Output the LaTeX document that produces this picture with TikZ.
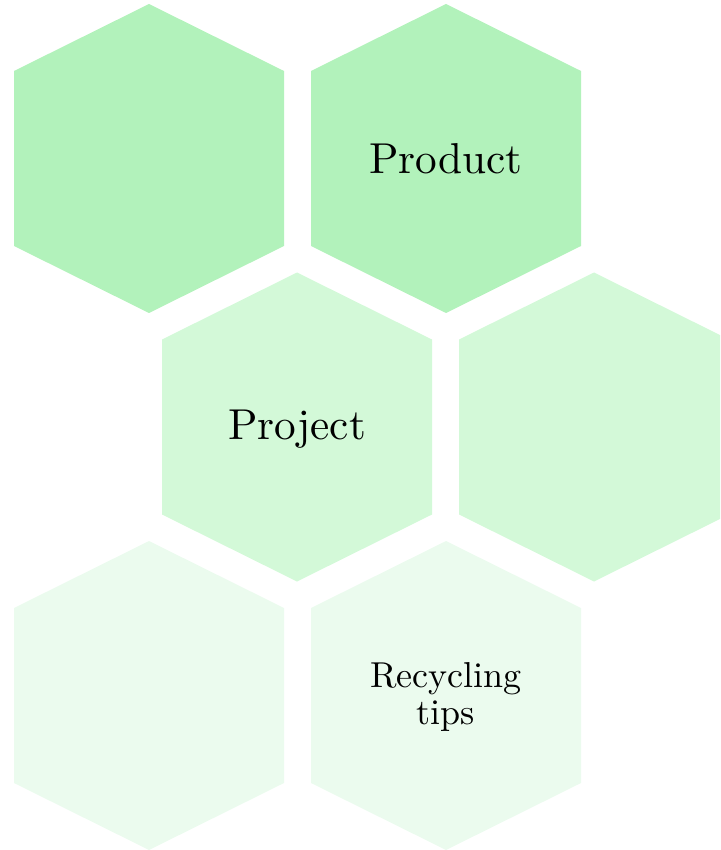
\documentclass[tikz,border=0pt]{standalone}
\usepackage{tikz}
\usetikzlibrary{calc}
\definecolor{hexdark}{HTML}{B2F2BB}
\definecolor{hexmid}{HTML}{D3F9D8}
\definecolor{hexlight}{HTML}{EBFBEE}
\def\hexcell[#1](#2,#3){\fill[#1] (#2,#3-154.5) -- (#2+135,#3-87.5) -- (#2+135,#3+87.5) -- (#2,#3+154.5) -- (#2-135,#3+87.5) -- (#2-135,#3-87.5) -- cycle;}
\tikzset{
  biglabel/.style={font=\fontsize{10}{10.3}\selectfont, align=center, inner sep=0pt, scale=2.49, transform shape},
  smalllabel/.style={font=\fontsize{10}{10.3}\selectfont, align=center, inner sep=0pt, scale=2.075, transform shape}
}

\begin{document}
\begin{tikzpicture}[x=0.576pt, y=-0.576pt]
			%%%%% START %%%%%
			
			\useasboundingbox (0,0) rectangle (720,850);
			\clip (0,0) rectangle (720,850);
			
			% top row
			\hexcell[hexdark](149,158.5)
			\hexcell[hexdark](446,158.5)
			
			% middle row
			\hexcell[hexmid](297,427)
			\hexcell[hexmid](594,427)
			
			% bottom row
			\hexcell[hexlight](149,695.5)
			\hexcell[hexlight](446,695.5)
			
			\node[biglabel] (product) at (446,158.5) {Product};
			\node[biglabel] (project) at (297,429) {Project};
			\node[smalllabel] (tips) at (446,697) {Recycling\\tips};
			
			%%%%% END %%%%%
		\end{tikzpicture}
\end{document}
